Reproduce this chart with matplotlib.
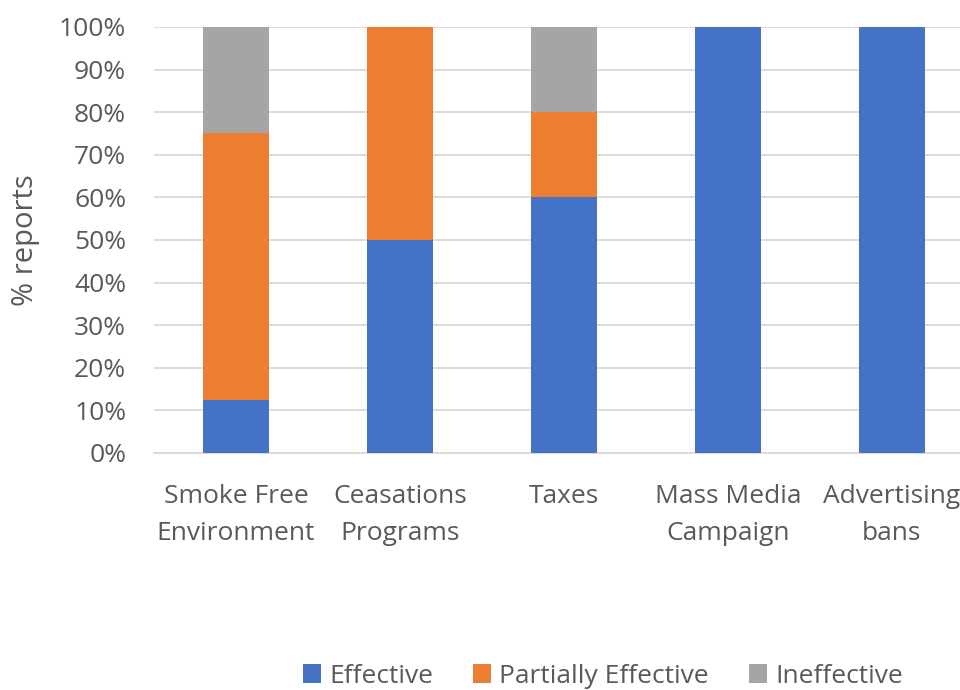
import matplotlib.pyplot as plt
import numpy as np

categories = ["Smoke Free\nEnvironment", "Ceasations\nPrograms", "Taxes",
              "Mass Media\nCampaign", "Advertising\nbans"]
effective = [12.5, 50, 60, 100, 100]
partially = [62.5, 50, 20, 0, 0]
ineffective = [25, 0, 20, 0, 0]

plt.rcParams['font.family'] = ['Open Sans', 'DejaVu Sans']
txt = "#595959"

fig = plt.figure(figsize=(9.6, 6.9), dpi=100)
# plot area runs a little past the right edge, as in the original
ax = fig.add_axes([0.1604, 0.3435, 0.854, 0.6175])

x = np.arange(len(categories))
w = 0.4
b1 = ax.bar(x, effective, w, color="#4472C4", label="Effective", zorder=3)
b2 = ax.bar(x, partially, w, bottom=effective, color="#ED7D31",
            label="Partially Effective", zorder=3)
bottom3 = np.array(effective) + np.array(partially)
b3 = ax.bar(x, ineffective, w, bottom=bottom3, color="#A5A5A5",
            label="Ineffective", zorder=3)

ax.set_ylim(0, 100)
ax.set_xlim(-0.5, len(categories) - 0.5)
ax.set_yticks(range(0, 101, 10))
ax.set_yticklabels([f"{v}%" for v in range(0, 101, 10)])
ax.set_xticks(x)
ax.set_xticklabels(categories, linespacing=1.65)
ax.tick_params(axis="both", length=0, labelsize=19, colors=txt, pad=20)
ax.tick_params(axis="x", pad=22)
ax.grid(axis="y", color="#D9D9D9", linewidth=1.3, zorder=0)
for s in ["top", "right", "left"]:
    ax.spines[s].set_visible(False)
ax.spines["bottom"].set_color("#D9D9D9")
ax.spines["bottom"].set_linewidth(1.3)

fig.text(25 / 960, 0.3435 + 0.6175 / 2, "% reports", rotation=90,
         ha="center", va="center", fontsize=21, color=txt)

fig.legend(handles=[b1, b2, b3], loc="center", bbox_to_anchor=(0.628, 0.02),
           ncol=3, frameon=False, fontsize=19, labelcolor=txt,
           handlelength=0.7, handleheight=0.7, columnspacing=1.5,
           handletextpad=0.3, borderpad=0, borderaxespad=0)

fig.savefig("out.png", dpi=100)
